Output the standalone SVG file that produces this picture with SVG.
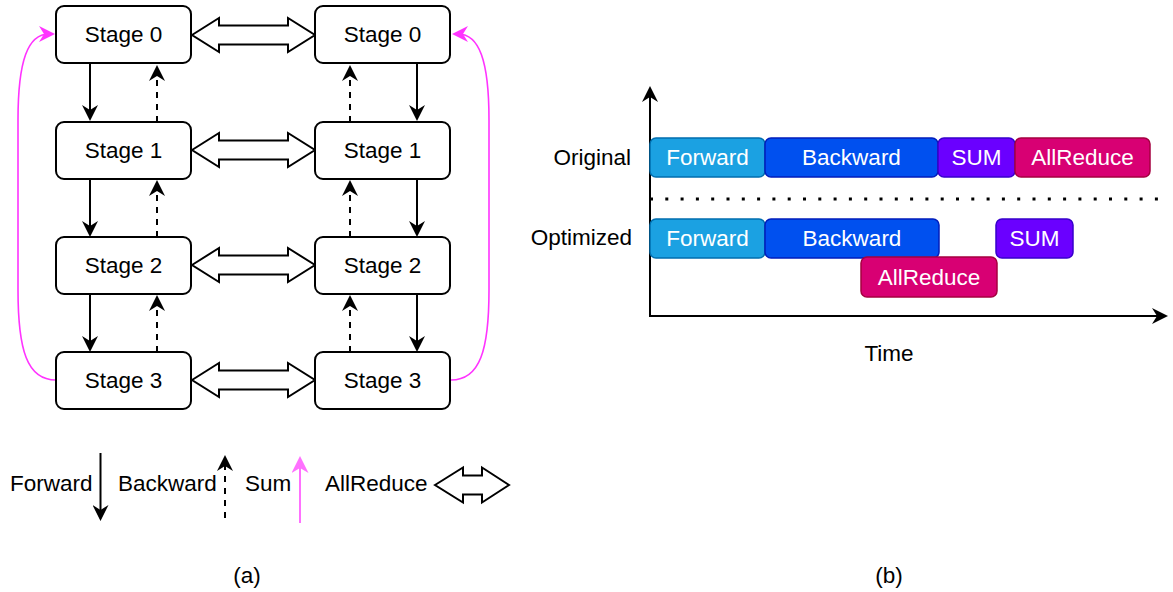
<svg xmlns="http://www.w3.org/2000/svg" width="1173" height="592" viewBox="0 0 1173 592">
<style>
text{font-family:"Liberation Sans",Arial,sans-serif;font-size:22.5px;fill:#000}
.c{text-anchor:middle}
.w{fill:#fff}
.box{fill:#fff;stroke:#000;stroke-width:2}
.dbl{fill:#fff;stroke:#000;stroke-width:2;stroke-linejoin:miter}
.fw{fill:none;stroke:#000;stroke-width:2}
.bw{fill:none;stroke:#000;stroke-width:2;stroke-dasharray:6 6}
.sum{fill:none;stroke:#ff33ff;stroke-width:1.6}
.bar{stroke-width:1.5}
</style>
<defs>
<marker id="ah" markerUnits="userSpaceOnUse" markerWidth="16" markerHeight="16" viewBox="0 0 16 16" refX="10" refY="8" orient="auto"><path d="M16,8 L0,0 L5,8 L0,16 Z" fill="#000"/></marker>
<marker id="ahp" markerUnits="userSpaceOnUse" markerWidth="16" markerHeight="16" viewBox="0 0 16 16" refX="10" refY="8" orient="auto"><path d="M16,8 L0,0 L5,8 L0,16 Z" fill="#ff33ff"/></marker>
<marker id="ahl" markerUnits="userSpaceOnUse" markerWidth="17" markerHeight="17" viewBox="0 0 17 17" refX="11" refY="8.5" orient="auto"><path d="M17,8.5 L0,0 L5,8.5 L0,17 Z" fill="#ff70ff"/></marker>
<path id="dblshape" d="M0,0 L27,-17 L27,-9.5 L96,-9.5 L96,-17 L123,0 L96,17 L96,9.5 L27,9.5 L27,17 Z"/>
</defs>

<g id="connectors">
<!-- forward, left column -->
<line class="fw" x1="90" y1="63" x2="90" y2="115" marker-end="url(#ah)"/>
<line class="fw" x1="90" y1="179" x2="90" y2="231" marker-end="url(#ah)"/>
<line class="fw" x1="90" y1="294" x2="90" y2="346" marker-end="url(#ah)"/>
<!-- backward, left column -->
<line class="bw" x1="157" y1="122" x2="157" y2="71" marker-end="url(#ah)"/>
<line class="bw" x1="157" y1="237" x2="157" y2="186" marker-end="url(#ah)"/>
<line class="bw" x1="157" y1="352" x2="157" y2="301" marker-end="url(#ah)"/>
<!-- forward, right column -->
<line class="fw" x1="417" y1="63" x2="417" y2="115" marker-end="url(#ah)"/>
<line class="fw" x1="417" y1="179" x2="417" y2="231" marker-end="url(#ah)"/>
<line class="fw" x1="417" y1="294" x2="417" y2="346" marker-end="url(#ah)"/>
<!-- backward, right column -->
<line class="bw" x1="350" y1="122" x2="350" y2="71" marker-end="url(#ah)"/>
<line class="bw" x1="350" y1="237" x2="350" y2="186" marker-end="url(#ah)"/>
<line class="bw" x1="350" y1="352" x2="350" y2="301" marker-end="url(#ah)"/>
<!-- sum curves -->
<path class="sum" d="M56,380 C27,380 18,350 18,290 L18,120 C18,60 28,34 49,34" marker-end="url(#ahp)"/>
<path class="sum" d="M451,380 C480,380 489,350 489,290 L489,120 C489,60 479,34 458,34" marker-end="url(#ahp)"/>
<!-- allreduce double arrows -->
<use href="#dblshape" class="dbl" transform="translate(192,35)"/>
<use href="#dblshape" class="dbl" transform="translate(192,150)"/>
<use href="#dblshape" class="dbl" transform="translate(192,265)"/>
<use href="#dblshape" class="dbl" transform="translate(192,380)"/>
</g>

<g id="stage0-left"><rect class="box" x="56" y="6" width="135" height="57" rx="8"/><text class="c" x="123.5" y="42.4">Stage 0</text></g>
<g id="stage1-left"><rect class="box" x="56" y="122" width="135" height="57" rx="8"/><text class="c" x="123.5" y="158.4">Stage 1</text></g>
<g id="stage2-left"><rect class="box" x="56" y="237" width="135" height="57" rx="8"/><text class="c" x="123.5" y="273.4">Stage 2</text></g>
<g id="stage3-left"><rect class="box" x="56" y="352" width="135" height="57" rx="8"/><text class="c" x="123.5" y="388.4">Stage 3</text></g>
<g id="stage0-right"><rect class="box" x="315" y="6" width="135" height="57" rx="8"/><text class="c" x="382.5" y="42.4">Stage 0</text></g>
<g id="stage1-right"><rect class="box" x="315" y="122" width="135" height="57" rx="8"/><text class="c" x="382.5" y="158.4">Stage 1</text></g>
<g id="stage2-right"><rect class="box" x="315" y="237" width="135" height="57" rx="8"/><text class="c" x="382.5" y="273.4">Stage 2</text></g>
<g id="stage3-right"><rect class="box" x="315" y="352" width="135" height="57" rx="8"/><text class="c" x="382.5" y="388.4">Stage 3</text></g>

<g id="legend">
<text x="10" y="491">Forward</text>
<line class="fw" x1="100.5" y1="453" x2="100.5" y2="515" marker-end="url(#ah)"/>
<text x="118" y="491">Backward</text>
<line class="bw" x1="225" y1="518" x2="225" y2="461" marker-end="url(#ah)"/>
<text x="245" y="491">Sum</text>
<line x1="300" y1="523" x2="300" y2="462" stroke="#ff70ff" stroke-width="2" marker-end="url(#ahl)"/>
<text x="325" y="491">AllReduce</text>
<path class="dbl" d="M435,485 L463,467.5 L463,475.5 L482,475.5 L482,467.5 L509,485 L482,502.5 L482,494.5 L463,494.5 L463,502.5 Z"/>
</g>

<text class="c" x="247" y="583">(a)</text>

<g id="timeline-axes">
<line class="fw" x1="650" y1="317" x2="650" y2="92" marker-end="url(#ah)"/>
<line class="fw" x1="649" y1="316" x2="1162" y2="316" marker-end="url(#ah)"/>
<line x1="650" y1="199" x2="1163" y2="199" stroke="#000" stroke-width="3" stroke-dasharray="3 12.3"/>
</g>

<text x="631" y="165" text-anchor="end">Original</text>
<text x="632" y="245" text-anchor="end">Optimized</text>

<g id="orig-forward"><rect class="bar" x="650" y="138" width="115" height="39" rx="6" fill="#1ba1e2" stroke="#006eaf"/><text class="c w" x="707.5" y="165.4">Forward</text></g>
<g id="orig-backward"><rect class="bar" x="765" y="138" width="173" height="39" rx="6" fill="#0050ef" stroke="#001dbc"/><text class="c w" x="851.5" y="165.4">Backward</text></g>
<g id="orig-sum"><rect class="bar" x="938" y="138" width="77" height="39" rx="6" fill="#6a00ff" stroke="#3700cc"/><text class="c w" x="976.5" y="165.4">SUM</text></g>
<g id="orig-allreduce"><rect class="bar" x="1015" y="138" width="135" height="39" rx="6" fill="#d80073" stroke="#a50040"/><text class="c w" x="1082.5" y="165.4">AllReduce</text></g>

<g id="opt-forward"><rect class="bar" x="650" y="219" width="115" height="39" rx="6" fill="#1ba1e2" stroke="#006eaf"/><text class="c w" x="707.5" y="246.4">Forward</text></g>
<g id="opt-backward"><rect class="bar" x="765" y="219" width="174" height="39" rx="6" fill="#0050ef" stroke="#001dbc"/><text class="c w" x="852" y="246.4">Backward</text></g>
<g id="opt-sum"><rect class="bar" x="996" y="219" width="77" height="39" rx="6" fill="#6a00ff" stroke="#3700cc"/><text class="c w" x="1034.5" y="246.4">SUM</text></g>
<g id="opt-allreduce"><rect class="bar" x="861" y="257" width="136" height="40" rx="6" fill="#d80073" stroke="#a50040"/><text class="c w" x="929" y="284.9">AllReduce</text></g>

<text class="c" x="889" y="361">Time</text>
<text class="c" x="889" y="583">(b)</text>
</svg>
